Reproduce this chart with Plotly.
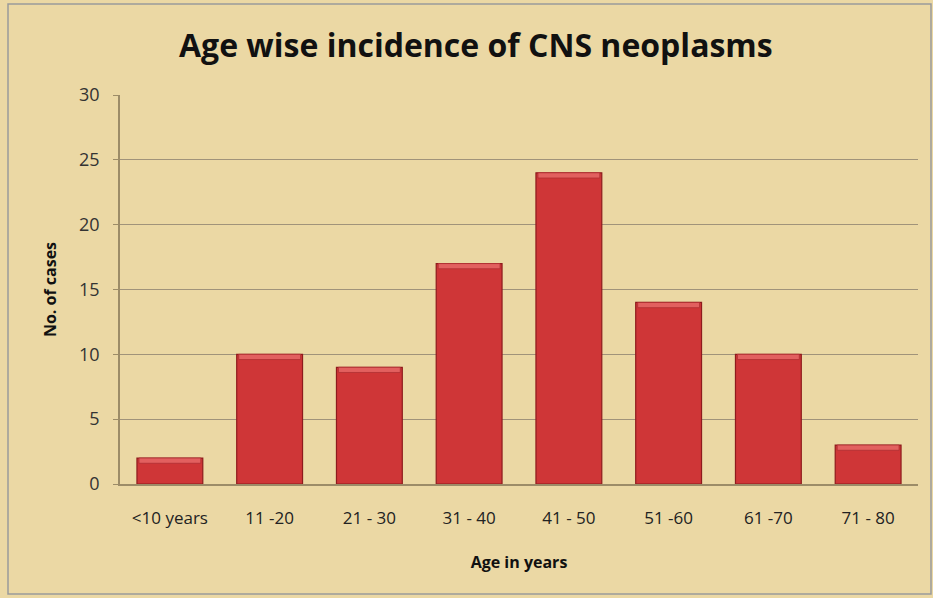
import plotly.graph_objects as go

categories = ["<10 years", "11 -20", "21 - 30", "31 - 40", "41 - 50", "51 -60", "61 -70", "71 - 80"]
cases = [2, 10, 9, 17, 24, 14, 10, 3]
y_ticks = [0, 5, 10, 15, 20, 25, 30]

W, H = 933, 598
L, R, T, B = 120, 15, 95, 114

fig = go.Figure()
fig.add_trace(go.Bar(
    x=categories, y=cases,
    marker=dict(color="#CF3637", line=dict(color="#8E1B1D", width=1.2)),
    width=0.66, hoverinfo="x+y",
))
# bevel highlight at top of each bar
bevel = 0.4
fig.add_trace(go.Bar(
    x=categories, y=[bevel] * len(cases), base=[c - bevel for c in cases],
    marker=dict(color="#E2605F", line=dict(color="#B03032", width=0.8)),
    width=0.62, hoverinfo="skip",
))

fig.update_layout(
    width=W, height=H,
    margin=dict(l=L, r=R, t=T, b=B),
    paper_bgcolor="#EBD8A4",
    plot_bgcolor="rgba(0,0,0,0)",
    showlegend=False,
    barmode="overlay",
    font=dict(family="Open Sans", color="#2a2a2a"),
    title=dict(text="<b>Age wise incidence of CNS neoplasms</b>",
               x=0.51, xanchor="center", y=1 - 46 / H, yanchor="middle",
               font=dict(size=32, color="#111", family="Open Sans")),
)
fig.update_xaxes(
    showgrid=False, showline=True, linecolor="#9c8c68", linewidth=1.5,
    ticks="", tickfont=dict(size=17, color="#222"), ticklabelstandoff=18,
    title=dict(text="<b>Age in years</b>", font=dict(size=16, color="#111"), standoff=29),
)
fig.update_yaxes(
    range=[0, 30], tickvals=y_ticks, showgrid=True, gridcolor="#a0937a", gridwidth=1,
    showline=True, linecolor="#9c8c68", linewidth=1.5, zeroline=False,
    ticks="outside", ticklen=5, tickcolor="#9c8c68", ticklabelstandoff=10,
    tickfont=dict(size=18, color="#333"),
    title=dict(text="<b>No. of cases</b>", font=dict(size=16, color="#111"), standoff=18),
)
fig.add_shape(type="rect", xref="paper", yref="paper",
              x0=-(L - 8) / (W - L - R), x1=1 + (R - 2) / (W - L - R),
              y0=-(B - 4) / (H - T - B), y1=1 + (T - 4) / (H - T - B),
              line=dict(color="#9a9a9a", width=1.5), fillcolor="rgba(0,0,0,0)", layer="below")

fig.write_html("out.html", config={"displayModeBar": False},
               post_script="document.body.style.margin='0';")
